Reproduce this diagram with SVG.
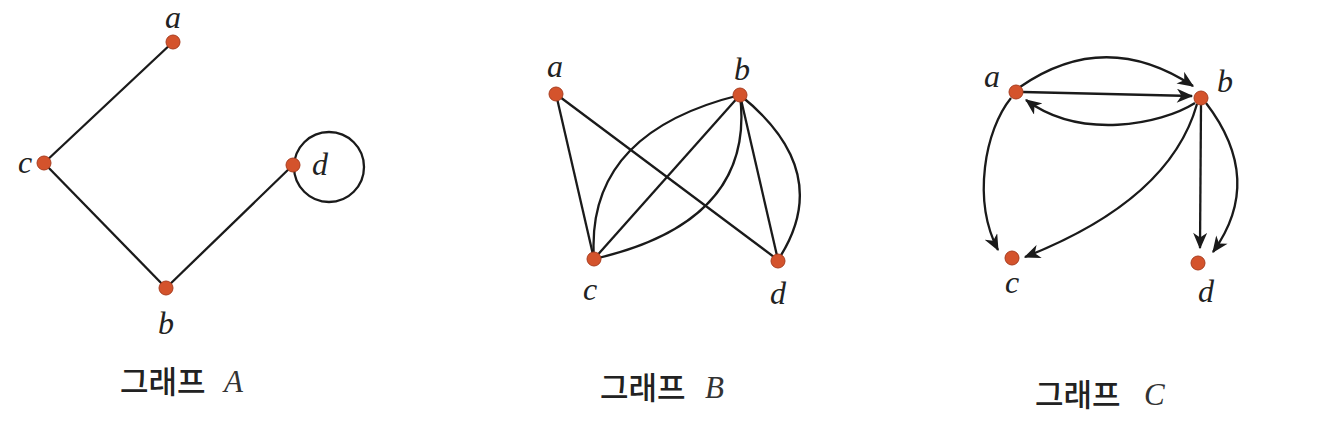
<svg xmlns="http://www.w3.org/2000/svg" width="1317" height="428" viewBox="0 0 1317 428">
<defs>
<style>
.edge{fill:none;stroke:#1a1a1a;stroke-width:2.3}
.node{fill:#d4532c;stroke:#a93d1f;stroke-width:1}
.lbl{font-family:"Liberation Serif","Times New Roman",serif;font-style:italic;font-size:32px;fill:#222;text-anchor:middle}
.title{font-family:"Noto Sans CJK KR","Noto Sans",sans-serif;font-size:31px;font-weight:500;fill:#222}
.tl{font-family:"Liberation Serif","Times New Roman",serif;font-style:italic;font-size:31px;fill:#333}
.arr{marker-end:url(#ah)}
</style>
<marker id="ah" viewBox="0 0 14 12" refX="13" refY="6" markerWidth="17" markerHeight="14" markerUnits="userSpaceOnUse" orient="auto">
<path d="M0,0 L14,6 L0,12 L4,6 z" fill="#1a1a1a"/>
</marker>
</defs>
<rect width="1317" height="428" fill="#ffffff"/>

<g id="connectors">
<!-- Graph A -->
<line class="edge" x1="173" y1="42" x2="44" y2="163"/>
<line class="edge" x1="44" y1="163" x2="166" y2="288"/>
<line class="edge" x1="166" y1="288" x2="293" y2="165"/>
<circle class="edge" cx="329" cy="167" r="35"/>
<!-- Graph B -->
<line class="edge" x1="556" y1="94" x2="594" y2="259"/>
<line class="edge" x1="556" y1="94" x2="778" y2="260"/>
<line class="edge" x1="594" y1="259" x2="740" y2="95"/>
<line class="edge" x1="740" y1="95" x2="778" y2="260"/>
<path class="edge" d="M594,259 Q585,133 740,95"/>
<path class="edge" d="M594,259 Q756,222 740,95"/>
<path class="edge" d="M740,95 Q836,172 778,260"/>
<!-- Graph C -->
<path class="edge arr" d="M1020,87 Q1105,28 1193,86"/>
<path class="edge arr" d="M1023,92 L1192,96"/>
<path class="edge arr" d="M1195,103 C1160,125 1080,140 1026,100"/>
<path class="edge arr" d="M1011,98 C985,130 972,200 998,250"/>
<path class="edge arr" d="M1197,104 Q1170,200 1025,257"/>
<path class="edge arr" d="M1201,105 L1200,248"/>
<path class="edge arr" d="M1206,103 Q1265,180 1213,252"/>
</g>

<g id="graphA">
<g id="A-a"><circle class="node" cx="173" cy="42" r="7"/><text class="lbl" x="173" y="28">a</text></g>
<g id="A-c"><circle class="node" cx="44" cy="163" r="7"/><text class="lbl" x="25" y="173">c</text></g>
<g id="A-d"><circle class="node" cx="293" cy="165" r="7"/><text class="lbl" x="320" y="175">d</text></g>
<g id="A-b"><circle class="node" cx="166" cy="288" r="7"/><text class="lbl" x="166" y="334">b</text></g>
<g id="titleA"><text class="title" x="120" y="393">그래프</text><text class="tl" x="224" y="392">A</text></g>
</g>

<g id="graphB">
<g id="B-a"><circle class="node" cx="556" cy="94" r="7"/><text class="lbl" x="555" y="77">a</text></g>
<g id="B-b"><circle class="node" cx="740" cy="95" r="7"/><text class="lbl" x="742" y="80">b</text></g>
<g id="B-c"><circle class="node" cx="594" cy="259" r="7"/><text class="lbl" x="590" y="300">c</text></g>
<g id="B-d"><circle class="node" cx="778" cy="261" r="7"/><text class="lbl" x="778" y="304">d</text></g>
<g id="titleB"><text class="title" x="600" y="399">그래프</text><text class="tl" x="705" y="398">B</text></g>
</g>

<g id="graphC">
<g id="C-a"><circle class="node" cx="1016" cy="92" r="7"/><text class="lbl" x="992" y="87">a</text></g>
<g id="C-b"><circle class="node" cx="1201" cy="98" r="7"/><text class="lbl" x="1225" y="92">b</text></g>
<g id="C-c"><circle class="node" cx="1012" cy="258" r="7"/><text class="lbl" x="1012" y="293">c</text></g>
<g id="C-d"><circle class="node" cx="1198" cy="263" r="7"/><text class="lbl" x="1206" y="302">d</text></g>
<g id="titleC"><text class="title" x="1035" y="406">그래프</text><text class="tl" x="1144" y="405">C</text></g>
</g>
</svg>
